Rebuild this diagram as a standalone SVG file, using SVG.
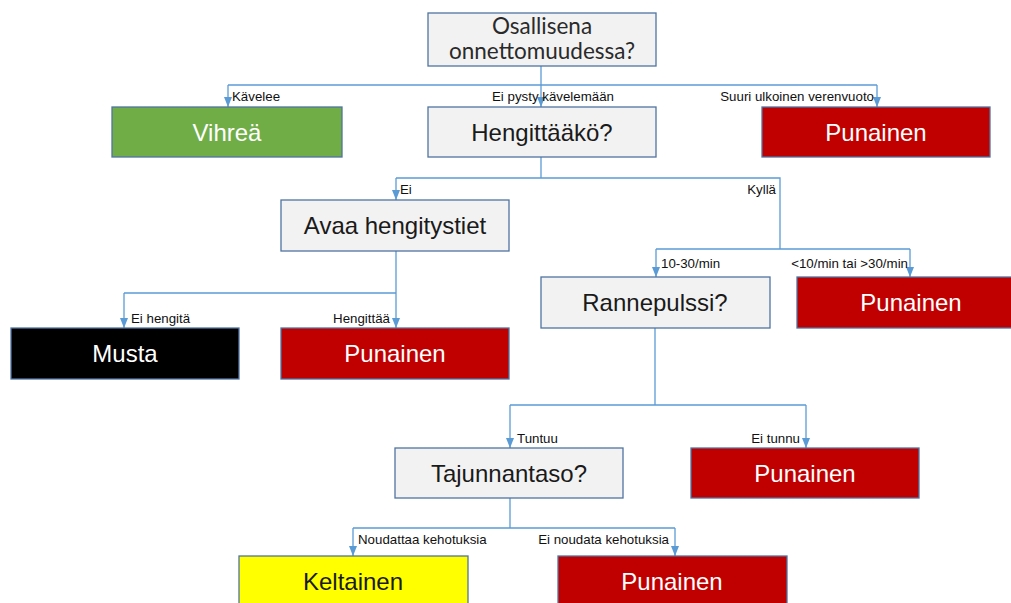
<svg xmlns="http://www.w3.org/2000/svg" width="1011" height="603" viewBox="0 0 1011 603">
<style>
.box{stroke:#4f74a0;stroke-width:1.3}
.q{fill:#f2f2f2}
.red{fill:#c00000}
.t{font-family:"Liberation Sans",Arial,sans-serif;font-size:24px;text-anchor:middle}
.tl{font-family:Lato,"Liberation Sans",sans-serif;font-size:22.5px;font-weight:400;text-anchor:middle;fill:#2a2a2a}
.dk{fill:#1a1a1a}
.wh{fill:#ffffff}
.lbl{font-family:"Liberation Sans",Arial,sans-serif;font-size:13.3px;fill:#111}
.c{fill:none;stroke:#5b9bd5;stroke-width:1.3}
</style>
<defs>
<marker id="ah" markerUnits="userSpaceOnUse" markerWidth="10" markerHeight="8" viewBox="0 0 10 8" refX="10" refY="4" orient="auto">
<path d="M0,0 L10,4 L0,8 z" fill="#5b9bd5"/>
</marker>
</defs>
<rect width="1011" height="603" fill="#ffffff"/>
<g id="connectors">
<path class="c" d="M541,66 V85"/>
<path class="c" d="M228,85 H877"/>
<path class="c" d="M228,85 V107" marker-end="url(#ah)"/>
<path class="c" d="M541,85 V107" marker-end="url(#ah)"/>
<path class="c" d="M877,85 V107" marker-end="url(#ah)"/>
<path class="c" d="M541,157 V178 M396,178 H780 V249 M656,249 H910"/>
<path class="c" d="M396,178 V200" marker-end="url(#ah)"/>
<path class="c" d="M656,249 V277" marker-end="url(#ah)"/>
<path class="c" d="M910,249 V277" marker-end="url(#ah)"/>
<path class="c" d="M396,251 V293 M124,293 H396"/>
<path class="c" d="M124,293 V328" marker-end="url(#ah)"/>
<path class="c" d="M396,293 V328" marker-end="url(#ah)"/>
<path class="c" d="M655,328 V405 M510,405 H806"/>
<path class="c" d="M510,405 V448" marker-end="url(#ah)"/>
<path class="c" d="M806,405 V448" marker-end="url(#ah)"/>
<path class="c" d="M510,498 V528 M353,528 H675"/>
<path class="c" d="M353,528 V556" marker-end="url(#ah)"/>
<path class="c" d="M675,528 V556" marker-end="url(#ah)"/>
<text class="lbl" x="232" y="101">Kävelee</text>
<text class="lbl" x="492" y="101">Ei pysty kävelemään</text>
<text class="lbl" x="874" y="101" text-anchor="end">Suuri ulkoinen verenvuoto</text>
<text class="lbl" x="400" y="194">Ei</text>
<text class="lbl" x="776" y="194" text-anchor="end">Kyllä</text>
<text class="lbl" x="661" y="268">10-30/min</text>
<text class="lbl" x="908" y="268" text-anchor="end">&lt;10/min tai &gt;30/min</text>
<text class="lbl" x="131" y="323">Ei hengitä</text>
<text class="lbl" x="390" y="323" text-anchor="end">Hengittää</text>
<text class="lbl" x="517" y="443">Tuntuu</text>
<text class="lbl" x="800" y="443" text-anchor="end">Ei tunnu</text>
<text class="lbl" x="358" y="544">Noudattaa kehotuksia</text>
<text class="lbl" x="669" y="544" text-anchor="end">Ei noudata kehotuksia</text>
</g>
<g id="n-osallisena">
<rect class="box q" x="428" y="13" width="228" height="53"/>
<text class="tl" x="542" y="34">Osallisena<tspan x="542" y="59">onnettomuudessa?</tspan></text>
</g>
<g id="n-vihrea">
<rect class="box" fill="#70ad47" x="112" y="107" width="230" height="50"/>
<text class="t wh" x="227" y="141">Vihreä</text>
</g>
<g id="n-hengittaako">
<rect class="box q" x="428" y="107" width="228" height="50"/>
<text class="t dk" x="542" y="141">Hengittääkö?</text>
</g>
<g id="n-punainen1">
<rect class="box red" x="762" y="107" width="228" height="50"/>
<text class="t wh" x="876" y="141">Punainen</text>
</g>
<g id="n-avaa">
<rect class="box q" x="281" y="200" width="228" height="51"/>
<text class="t dk" x="395" y="234">Avaa hengitystiet</text>
</g>
<g id="n-rannepulssi">
<rect class="box q" x="541" y="277" width="229" height="51"/>
<text class="t dk" x="655" y="311">Rannepulssi?</text>
</g>
<g id="n-punainen2">
<rect class="box red" x="797" y="277" width="228" height="51"/>
<text class="t wh" x="911" y="311">Punainen</text>
</g>
<g id="n-musta">
<rect class="box" fill="#000000" x="11" y="328" width="228" height="51"/>
<text class="t wh" x="125" y="362">Musta</text>
</g>
<g id="n-punainen3">
<rect class="box red" x="281" y="328" width="228" height="51"/>
<text class="t wh" x="395" y="362">Punainen</text>
</g>
<g id="n-tajunnantaso">
<rect class="box q" x="395" y="448" width="228" height="50"/>
<text class="t dk" x="509" y="482">Tajunnantaso?</text>
</g>
<g id="n-punainen4">
<rect class="box red" x="691" y="448" width="228" height="50"/>
<text class="t wh" x="805" y="482">Punainen</text>
</g>
<g id="n-keltainen">
<rect class="box" fill="#ffff00" x="239" y="556" width="229" height="52"/>
<text class="t dk" x="353" y="590">Keltainen</text>
</g>
<g id="n-punainen5">
<rect class="box red" x="558" y="556" width="229" height="52"/>
<text class="t wh" x="672" y="590">Punainen</text>
</g>
</svg>
